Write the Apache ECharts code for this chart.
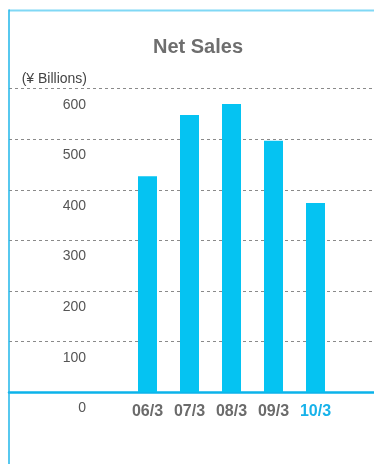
<!DOCTYPE html>
<html><head><meta charset="utf-8">
<script src="https://cdn.jsdelivr.net/npm/echarts@6/dist/echarts.min.js"></script>
<style>html,body{margin:0;padding:0;background:#fff}#c{width:374px;height:464px}</style>
</head><body><div id="c"></div>
<script>
const categories = ['06/3', '07/3', '08/3', '09/3', '10/3'];
const netSales = [427, 548, 570, 497, 374];
const yTicks = [0, 100, 200, 300, 400, 500, 600];
const titleText = 'Net Sales';
const unitText = '(¥ Billions)';

const chart = echarts.init(document.getElementById('c'), null, {renderer: 'canvas'});
const FONT = '"Liberation Sans", Arial, Helvetica, sans-serif';
const gridTop = 88.7, gridH = 303.6;
chart.setOption({
  animation: false,
  title: {
    text: titleText, left: 148, top: 32,
    textStyle: {fontFamily: FONT, fontSize: 20, fontWeight: 'bold', color: '#6e6e6e'}
  },
  grid: [
    {left: 9, right: 0, top: gridTop, height: gridH},
    {left: 126.5, width: 210, top: gridTop, height: gridH}
  ],
  xAxis: [
    {gridIndex: 0, type: 'value', min: 0, max: 1, axisLabel: {show: false}, axisTick: {show: false},
     splitLine: {show: false}, axisLine: {show: true, onZero: false, lineStyle: {color: '#0bb3ea', width: 2.5}}},
    {gridIndex: 1, type: 'category', data: categories.map((c, i) => i === categories.length - 1
        ? {value: c, textStyle: {color: '#17b2ea'}} : c),
     axisLine: {show: false}, axisTick: {show: false},
     axisLabel: {margin: 11, fontFamily: FONT, fontSize: 16, fontWeight: 'bold', color: '#6b6b6b'}}
  ],
  yAxis: [
    {gridIndex: 0, type: 'value', min: yTicks[0], max: yTicks[yTicks.length - 1], interval: 100,
     axisLine: {show: false}, axisTick: {show: false},
     splitLine: {show: true, lineStyle: {color: '#8a8a8a', type: [3, 3], width: 1}},
     axisLabel: {margin: -77, fontFamily: FONT, fontSize: 14, color: '#555', verticalAlign: 'top', lineHeight: 32}},
    {gridIndex: 1, type: 'value', min: 0, max: 600, show: false}
  ],
  series: [{
    type: 'bar', xAxisIndex: 1, yAxisIndex: 1, data: netSales, barWidth: 19,
    itemStyle: {color: '#05c3f2'}
  }],
  graphic: [
    {type: 'line', shape: {x1: 9, y1: 10.5, x2: 374, y2: 10.5}, style: {stroke: '#80d8f5', lineWidth: 2}, z: 10},
    {type: 'line', shape: {x1: 9, y1: 9.5, x2: 9, y2: 464}, style: {stroke: '#1fb6ea', lineWidth: 1.5}, z: 10},
    {type: 'text', right: 374 - 87, top: 72, style: {text: unitText, font: '14px ' + FONT, fill: '#444'}}
  ]
});
</script></body></html>
